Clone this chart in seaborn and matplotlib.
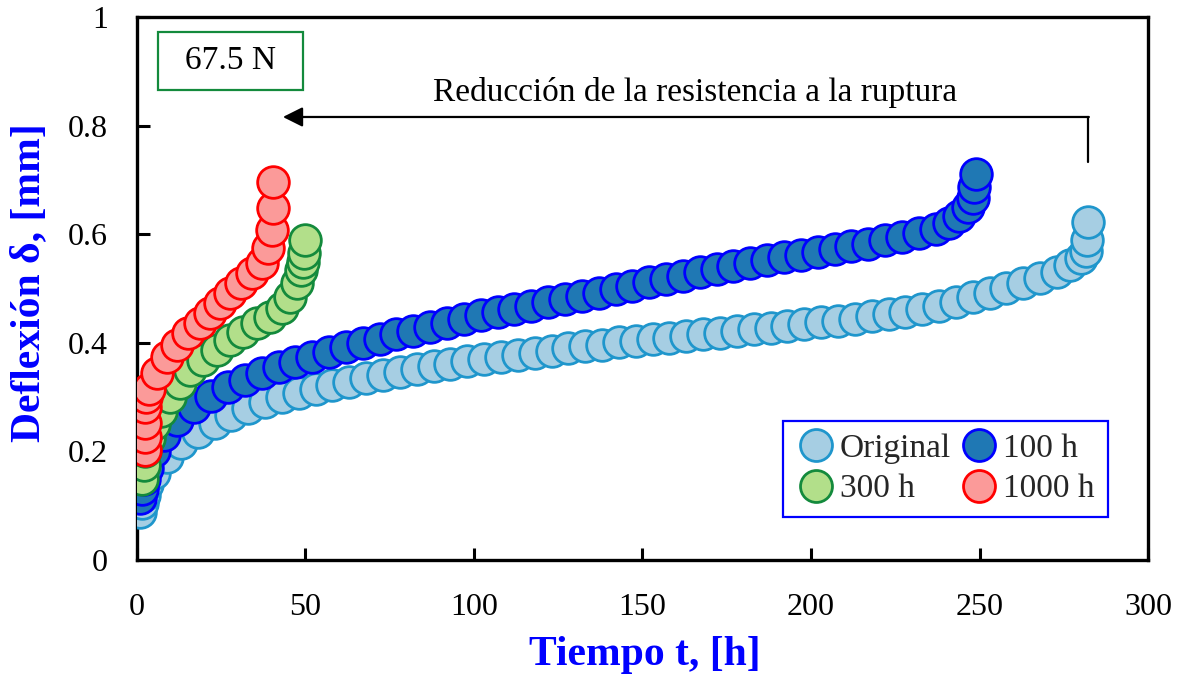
import numpy as np
import pandas as pd
import seaborn as sns
import matplotlib
matplotlib.use("Agg")
import matplotlib.pyplot as plt
from matplotlib.lines import Line2D
from matplotlib.patches import Rectangle

# Creep curves: deflection vs. time for each aging condition (load 67.5 N)
t_original = [1.0, 1.5, 2.0, 3.0, 5.0, 9.0, 13.0, 18.0, 23.0, 28.0, 33.0, 38.0,
              43.0, 48.0, 53.0, 58.0, 63.0, 68.0, 73.0, 78.0, 83.0, 88.0, 93.0,
              98.0, 103.0, 108.0, 113.0, 118.0, 123.0, 128.0, 133.0, 138.0,
              143.0, 148.0, 153.0, 158.0, 163.0, 168.0, 173.0, 178.0, 183.0,
              188.0, 193.0, 198.0, 203.0, 208.0, 213.0, 218.0, 223.0, 228.0,
              233.0, 238.0, 243.0, 248.0, 253.0, 258.0, 263.0, 268.0, 273.0,
              277.0, 280.0, 281.5, 282.0, 282.2]
d_original = [0.088, 0.105, 0.120, 0.140, 0.160, 0.190, 0.215, 0.236, 0.252,
              0.267, 0.280, 0.291, 0.300, 0.308, 0.316, 0.323, 0.329, 0.335,
              0.341, 0.347, 0.352, 0.357, 0.362, 0.366, 0.370, 0.374, 0.378,
              0.382, 0.386, 0.390, 0.394, 0.397, 0.401, 0.404, 0.407, 0.410,
              0.413, 0.416, 0.419, 0.422, 0.425, 0.428, 0.431, 0.435, 0.438,
              0.441, 0.445, 0.449, 0.453, 0.458, 0.463, 0.469, 0.476, 0.484,
              0.493, 0.502, 0.511, 0.520, 0.531, 0.543, 0.556, 0.570, 0.590,
              0.623]

t_100h = [1.0, 1.5, 2.0, 3.0, 5.0, 8.0, 12.0, 17.0, 22.0, 27.0, 32.0, 37.0,
          42.0, 47.0, 52.0, 57.0, 62.0, 67.0, 72.0, 77.0, 82.0, 87.0, 92.0,
          97.0, 102.0, 107.0, 112.0, 117.0, 122.0, 127.0, 132.0, 137.0, 142.0,
          147.0, 152.0, 157.0, 162.0, 167.0, 172.0, 177.0, 182.0, 187.0,
          192.0, 197.0, 202.0, 207.0, 212.0, 217.0, 222.0, 227.0, 232.0,
          237.0, 241.0, 244.0, 246.5, 248.0, 248.5, 249.0]
d_100h = [0.115, 0.130, 0.150, 0.170, 0.200, 0.230, 0.258, 0.282, 0.302,
          0.318, 0.332, 0.344, 0.355, 0.365, 0.374, 0.383, 0.392, 0.400,
          0.408, 0.416, 0.423, 0.430, 0.437, 0.444, 0.451, 0.457, 0.463,
          0.469, 0.475, 0.481, 0.487, 0.493, 0.499, 0.505, 0.512, 0.518,
          0.524, 0.530, 0.536, 0.542, 0.548, 0.553, 0.558, 0.563, 0.568,
          0.573, 0.578, 0.583, 0.589, 0.595, 0.602, 0.611, 0.622, 0.635,
          0.650, 0.668, 0.688, 0.711]

t_300h = [1.5, 2.0, 2.5, 3.5, 5.0, 7.0, 9.8, 12.8, 15.7, 19.6, 23.7, 27.6,
          31.5, 35.6, 39.5, 43.0, 45.4, 47.5, 48.8, 49.3, 49.6, 49.8]
d_300h = [0.150, 0.175, 0.200, 0.225, 0.250, 0.275, 0.300, 0.326, 0.350,
          0.369, 0.387, 0.405, 0.420, 0.437, 0.448, 0.464, 0.485, 0.510,
          0.535, 0.550, 0.566, 0.590]

t_1000h = [2.5, 2.5, 2.5, 2.5, 2.8, 3.5, 5.9, 8.9, 11.8, 15.0, 18.7, 21.7,
           24.6, 27.6, 31.0, 34.0, 37.0, 39.0, 40.0, 40.3, 40.4]
d_1000h = [0.203, 0.227, 0.252, 0.282, 0.300, 0.315, 0.345, 0.374, 0.396,
           0.418, 0.437, 0.455, 0.473, 0.492, 0.510, 0.529, 0.547, 0.575,
           0.608, 0.649, 0.697]

series_names = ["Original", "100 h", "300 h", "1000 h"]
face_colors = ["#a6cee3", "#1f78b4", "#b2df8a", "#fb9a99"]
edge_colors = ["#1f96cc", "#0000ff", "#138a3c", "#ff0000"]

x_ticks = [0, 50, 100, 150, 200, 250, 300]
y_ticks = [0, 0.2, 0.4, 0.6, 0.8, 1.0]
y_tick_labels = ["0", "0.2", "0.4", "0.6", "0.8", "1"]

load_label = "67.5 N"
arrow_label = "Reducción de la resistencia a la ruptura"

frames = []
for name, t, d in zip(series_names,
                      [t_original, t_100h, t_300h, t_1000h],
                      [d_original, d_100h, d_300h, d_1000h]):
    frames.append(pd.DataFrame({"t": t, "d": d, "serie": name}))
data = pd.concat(frames, ignore_index=True)

sns.set_theme(style="white")
plt.rcParams["font.family"] = ["Liberation Serif", "DejaVu Serif"]

fig = plt.figure(figsize=(11.84, 6.86), dpi=100)
ax = fig.add_axes([0.1157, 0.1837, 0.8539, 0.7908])

for name, fc, ec in zip(series_names, face_colors, edge_colors):
    sub = data[data["serie"] == name]
    sns.scatterplot(data=sub, x="t", y="d", ax=ax, s=520, color=fc,
                    edgecolor=ec, linewidth=2.0, legend=False, zorder=3)

ax.set_xlim(0, 300)
ax.set_ylim(0, 1)
ax.set_xticks(x_ticks)
ax.set_yticks(y_ticks)
ax.set_yticklabels(y_tick_labels)
ax.tick_params(axis="both", direction="in", length=9, width=2.2,
               labelsize=23, colors="black", bottom=True, left=True,
               top=False, right=False)
ax.tick_params(axis="x", pad=24)
ax.tick_params(axis="y", pad=21)
for sp in ax.spines.values():
    sp.set_visible(True)
    sp.set_color("black")
    sp.set_linewidth(2.4)

ax.set_xlabel("Tiempo t, [h]", fontsize=30, fontweight="bold", color="#0000ff")
ax.set_ylabel("Deflexión δ, [mm]", fontsize=30, fontweight="bold", color="#0000ff")
ax.xaxis.set_label_coords(0.502, -0.140)
ax.yaxis.set_label_coords(-0.088, 0.512)

# Legend with the series in two columns
handles = {}
for name, fc, ec in zip(series_names, face_colors, edge_colors):
    handles[name] = Line2D([], [], marker="o", linestyle="none",
                           markersize=23, markerfacecolor=fc,
                           markeredgecolor=ec, markeredgewidth=2.0)
order = ["Original", "300 h", "100 h", "1000 h"]
leg = ax.legend([handles[n] for n in order], order, ncol=2,
                loc="lower right", bbox_to_anchor=(0.960, 0.079),
                fontsize=24, frameon=True, fancybox=False,
                handletextpad=0.12, columnspacing=0.25, handlelength=1.2,
                borderpad=0.38, labelspacing=0.3, borderaxespad=0)
leg.get_frame().set_edgecolor("#0000ff")
leg.get_frame().set_linewidth(1.6)
leg.get_frame().set_alpha(1)

# Load label box
ax.add_patch(Rectangle((0.0208, 0.8664), 0.1434, 0.1069, transform=ax.transAxes,
                       fill=False, edgecolor="#138a3c", linewidth=1.6, zorder=5))
ax.text(0.0925, 0.921, load_label, transform=ax.transAxes, ha="center",
        va="center", fontsize=24, color="black", zorder=6)

# Arrow indicating the loss of rupture resistance
ax.plot([282.2, 282.2], [0.733, 0.8166], color="black", lw=1.6, zorder=4)
ax.annotate("", xy=(43.3, 0.8166), xytext=(282.2 + 0.25, 0.8166),
            arrowprops=dict(arrowstyle="-|>", color="black", lw=1.6,
                            mutation_scale=30, shrinkA=0, shrinkB=0),
            zorder=4)
ax.text(165.5, 0.862, arrow_label, ha="center", va="center", fontsize=24,
        color="black")

fig.savefig("out.png", dpi=100)
